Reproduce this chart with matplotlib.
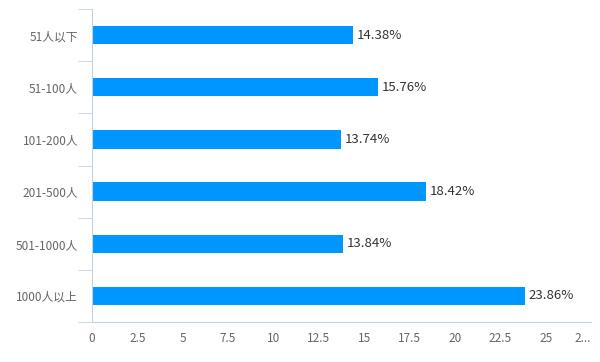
import matplotlib.pyplot as plt

plt.rcParams['font.family'] = ['Noto Sans CJK SC', 'DejaVu Sans']

categories = ['51人以下', '51-100人', '101-200人', '201-500人', '501-1000人', '1000人以上']
values = [14.38, 15.76, 13.74, 18.42, 13.84, 23.86]
xticks = [0, 2.5, 5, 7.5, 10, 12.5, 15, 17.5, 20, 22.5, 25, 27.5]
xtick_labels = ['0', '2.5', '5', '7.5', '10', '12.5', '15', '17.5', '20', '22.5', '25', '2...']

fig = plt.figure(figsize=(6, 3.62), dpi=100)
ax = fig.add_axes([92 / 600, 1 - 322 / 362, (591 - 92) / 600, (322 - 9) / 362])

pos = list(range(len(categories)))
ax.barh(pos, values, height=0.35, color='#0096ff')
for p, v in zip(pos, values):
    ax.text(v + 0.2, p, f'{v:.2f}%', va='center', ha='left', fontsize=9.5, color='#333333')

ax.set_ylim(len(categories) - 0.5, -0.5)
ax.set_xlim(0, 27.5)

axis_color = '#c4d0e0'
for s in ['top', 'right']:
    ax.spines[s].set_visible(False)
ax.spines['left'].set_color(axis_color)
ax.spines['bottom'].set_color(axis_color)

# category labels centred on bars, ticks on band boundaries
ax.set_yticks(pos)
ax.set_yticklabels(categories, fontsize=8.5, color='#666666')
ax.tick_params(axis='y', which='major', length=0, pad=10)
ax.set_yticks([p - 0.5 for p in range(len(categories) + 1)], minor=True)
ax.tick_params(axis='y', which='minor', length=10, color=axis_color)

ax.set_xticks(xticks)
ax.set_xticklabels(xtick_labels, fontsize=8.5, color='#666666')
ax.tick_params(axis='x', length=0, pad=7)
ax.get_xticklabels()[-1].set_horizontalalignment('right')

fig.savefig('out.png', dpi=100)
